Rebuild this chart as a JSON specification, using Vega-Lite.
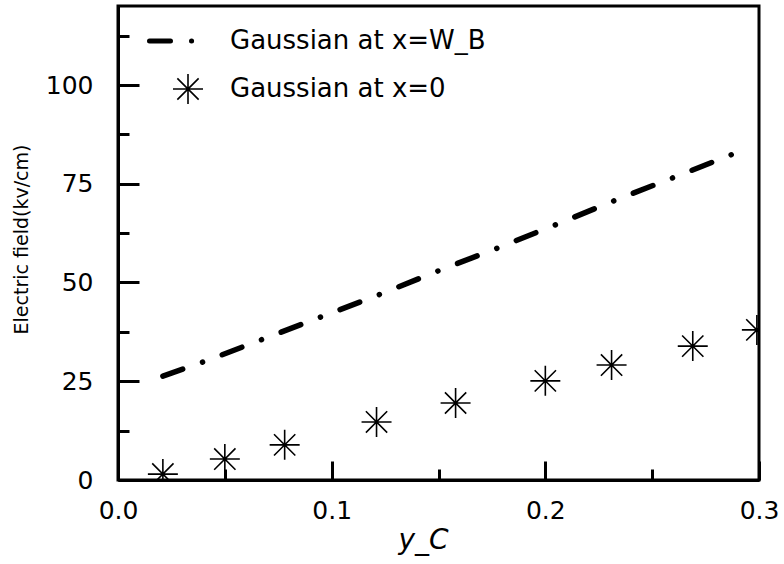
{
  "$schema": "https://vega.github.io/schema/vega-lite/v6.json",
  "width": 641,
  "height": 474,
  "autosize": {"type": "none"},
  "padding": {"left": 118, "top": 6, "right": 25, "bottom": 84},
  "background": "white",
  "config": {
    "view": {"stroke": "black", "strokeWidth": 3},
    "font": "DejaVu Sans",
    "axis": {
      "grid": false,
      "domainColor": "black",
      "domainWidth": 3,
      "tickColor": "black",
      "tickWidth": 3,
      "labelColor": "black",
      "labelFont": "DejaVu Sans",
      "labelFontSize": 25,
      "titleColor": "black",
      "titleFont": "DejaVu Sans",
      "titleFontWeight": "normal",
      "labelFlush": false,
      "labelOverlap": false
    },
    "legend": {
      "labelFont": "DejaVu Sans",
      "labelFontSize": 26,
      "labelColor": "black",
      "labelLimit": 0,
      "padding": 0
    }
  },
  "datasets": {
    "line": [
      {"yc": 0.021, "E": 26.3, "series": "Gaussian at x=W_B"},
      {"yc": 0.041, "E": 30.1, "series": "Gaussian at x=W_B"},
      {"yc": 0.068, "E": 35.7, "series": "Gaussian at x=W_B"},
      {"yc": 0.096, "E": 41.5, "series": "Gaussian at x=W_B"},
      {"yc": 0.124, "E": 47.3, "series": "Gaussian at x=W_B"},
      {"yc": 0.152, "E": 53.4, "series": "Gaussian at x=W_B"},
      {"yc": 0.179, "E": 59.0, "series": "Gaussian at x=W_B"},
      {"yc": 0.207, "E": 65.1, "series": "Gaussian at x=W_B"},
      {"yc": 0.234, "E": 71.1, "series": "Gaussian at x=W_B"},
      {"yc": 0.262, "E": 77.0, "series": "Gaussian at x=W_B"},
      {"yc": 0.292, "E": 83.4, "series": "Gaussian at x=W_B"}
    ],
    "points": [
      {"yc": 0.021, "E": 1.5, "series": "Gaussian at x=0"},
      {"yc": 0.050, "E": 5.3, "series": "Gaussian at x=0"},
      {"yc": 0.078, "E": 8.9, "series": "Gaussian at x=0"},
      {"yc": 0.121, "E": 14.7, "series": "Gaussian at x=0"},
      {"yc": 0.158, "E": 19.5, "series": "Gaussian at x=0"},
      {"yc": 0.200, "E": 25.1, "series": "Gaussian at x=0"},
      {"yc": 0.231, "E": 29.1, "series": "Gaussian at x=0"},
      {"yc": 0.269, "E": 33.9, "series": "Gaussian at x=0"},
      {"yc": 0.299, "E": 38.0, "series": "Gaussian at x=0"}
    ]
  },
  "layer": [
    {
      "data": {"name": "line"},
      "mark": {"type": "line", "color": "black", "strokeWidth": 5.5, "strokeCap": "round", "clip": true},
      "encoding": {
        "x": {
          "field": "yc", "type": "quantitative",
          "scale": {"domain": [0, 0.3], "nice": false, "zero": false},
          "axis": {
            "orient": "bottom",
            "values": [0, 0.1, 0.2, 0.3],
            "format": ".1f",
            "tickSize": -19,
            "labelPadding": 37,
            "title": "y_C",
            "titleFontSize": 28,
            "titleFontStyle": "italic",
            "titleX": 305,
            "titleY": 68,
            "titleBaseline": "alphabetic",
            "titleAlign": "center"
          }
        },
        "y": {
          "field": "E", "type": "quantitative",
          "scale": {"domain": [0, 120], "nice": false},
          "axis": {
            "orient": "left",
            "values": [0, 25, 50, 75, 100],
            "tickSize": -21,
            "labelPadding": 46,
            "title": "Electric field(kv/cm)",
            "titleFontSize": 19,
            "titleX": -97,
            "titleY": 233,
            "titleBaseline": "middle",
            "titleAlign": "center",
            "titleAngle": 270
          }
        },
        "strokeDash": {
          "field": "series", "type": "nominal",
          "scale": {"range": [[21, 21, 0.1, 21]]},
          "legend": {
            "orient": "none",
            "legendX": 29,
            "legendY": 10,
            "title": null,
            "symbolType": "stroke",
            "symbolSize": 2025,
            "symbolStrokeWidth": 5,
            "symbolStrokeColor": "black",
            "labelOffset": 33,
            "encode": {"symbols": {"update": {"strokeCap": {"value": "round"}}}}
          }
        }
      }
    },
    {
      "data": {"name": "points"},
      "mark": {"type": "point", "filled": false, "color": "black", "strokeWidth": 1.6, "size": 900, "opacity": 1, "clip": true},
      "encoding": {
        "x": {
          "field": "yc", "type": "quantitative",
          "scale": {"domain": [0, 0.3], "nice": false, "zero": false},
          "axis": {
            "orient": "bottom",
            "values": [0.05, 0.15, 0.25],
            "tickSize": -11,
            "labels": false,
            "domain": false,
            "title": null
          }
        },
        "y": {
          "field": "E", "type": "quantitative",
          "scale": {"domain": [0, 120], "nice": false},
          "axis": {
            "orient": "left",
            "values": [12.5, 37.5, 62.5, 87.5, 112.5],
            "tickSize": -11,
            "labels": false,
            "domain": false,
            "title": null
          }
        },
        "shape": {
          "field": "series", "type": "nominal",
          "scale": {"range": ["M-1,0L1,0M0,-1L0,1M-0.71,-0.71L0.71,0.71M-0.71,0.71L0.71,-0.71"]},
          "legend": {
            "orient": "none",
            "legendX": 54,
            "legendY": 67,
            "title": null,
            "symbolSize": 900,
            "symbolStrokeWidth": 1.6,
            "symbolStrokeColor": "black",
            "symbolFillColor": "transparent",
            "labelOffset": 26
          }
        }
      }
    }
  ],
  "resolve": {"axis": {"x": "independent", "y": "independent"}}
}
